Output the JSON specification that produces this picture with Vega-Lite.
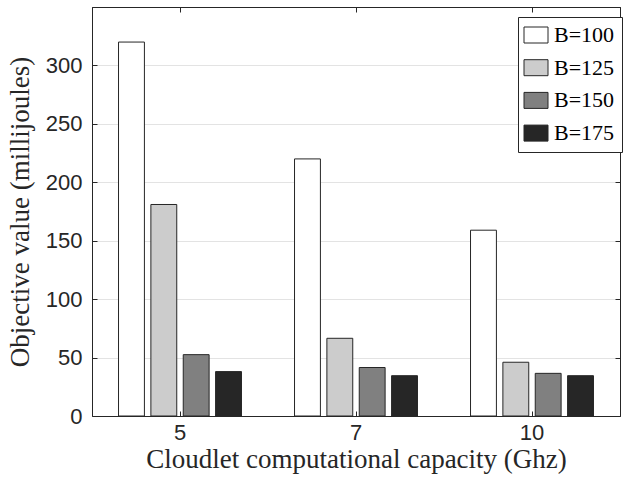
{
  "$schema": "https://vega.github.io/schema/vega-lite/v6.json",
  "width": 528,
  "height": 409,
  "autosize": "none",
  "padding": {"left": 92, "top": 7, "right": 5, "bottom": 64},
  "background": "white",
  "config": {
    "view": {"stroke": "#262626", "strokeWidth": 1},
    "axis": {
      "domainColor": "#262626",
      "tickColor": "#262626",
      "labelColor": "#262626",
      "titleColor": "#262626",
      "labelFont": "Liberation Sans",
      "labelFontSize": 22,
      "titleFont": "Liberation Serif",
      "titleFontSize": 27,
      "titleFontWeight": "normal",
      "gridColor": "#e3e3e3",
      "gridWidth": 1
    }
  },
  "data": {
    "values": [
      {"capacity": "5", "B": "B=100", "value": 320},
      {"capacity": "5", "B": "B=125", "value": 181},
      {"capacity": "5", "B": "B=150", "value": 52.5},
      {"capacity": "5", "B": "B=175", "value": 38},
      {"capacity": "7", "B": "B=100", "value": 220},
      {"capacity": "7", "B": "B=125", "value": 66.5},
      {"capacity": "7", "B": "B=150", "value": 41.5},
      {"capacity": "7", "B": "B=175", "value": 34.5},
      {"capacity": "10", "B": "B=100", "value": 159},
      {"capacity": "10", "B": "B=125", "value": 46},
      {"capacity": "10", "B": "B=150", "value": 36.5},
      {"capacity": "10", "B": "B=175", "value": 34.5}
    ]
  },
  "resolve": {"axis": {"x": "independent", "y": "independent"}},
  "layer": [
    {
      "mark": {"type": "bar", "stroke": "#262626", "strokeWidth": 1},
      "encoding": {
        "x": {
          "field": "capacity", "type": "ordinal", "sort": ["5", "7", "10"],
          "scale": {"paddingInner": 0, "paddingOuter": 0},
          "title": "Cloudlet computational capacity (Ghz)",
          "axis": {"labelAngle": 0, "tickSize": -5, "labelPadding": 11, "titlePadding": 3, "grid": false}
        },
        "xOffset": {
          "field": "B", "type": "nominal", "sort": ["B=100", "B=125", "B=150", "B=175"],
          "scale": {"paddingInner": 0.2, "paddingOuter": 0.82}
        },
        "y": {
          "field": "value", "type": "quantitative",
          "scale": {"domain": [0, 350], "nice": false},
          "title": "Objective value (millijoules)",
          "axis": {"values": [0, 50, 100, 150, 200, 250, 300], "tickSize": -5, "labelPadding": 15, "titlePadding": 11, "grid": true}
        },
        "fill": {
          "field": "B", "type": "nominal",
          "scale": {"domain": ["B=100", "B=125", "B=150", "B=175"], "range": ["#ffffff", "#cccccc", "#808080", "#262626"]},
          "legend": {
            "title": null,
            "orient": "none",
            "legendX": 426,
            "legendY": 10,
            "strokeColor": "#262626",
            "fillColor": "white",
            "padding": 7,
            "symbolType": "M-1.5,-1H1.5V1H-1.5Z",
            "symbolSize": 256,
            "symbolStrokeColor": "#262626",
            "symbolStrokeWidth": 1,
            "symbolOpacity": 1,
            "labelFont": "Liberation Serif",
            "labelFontSize": 22,
            "labelColor": "#000000",
            "labelOffset": 7,
            "rowPadding": 10.7
          }
        }
      }
    },
    {
      "mark": {"type": "bar", "opacity": 0},
      "encoding": {
        "x": {
          "field": "capacity", "type": "ordinal", "sort": ["5", "7", "10"],
          "axis": {"orient": "top", "labels": false, "title": null, "tickSize": -5, "grid": false}
        },
        "y": {
          "field": "value", "type": "quantitative",
          "axis": {"orient": "right", "values": [0, 50, 100, 150, 200, 250, 300], "labels": false, "title": null, "tickSize": -5, "grid": false}
        }
      }
    }
  ]
}
